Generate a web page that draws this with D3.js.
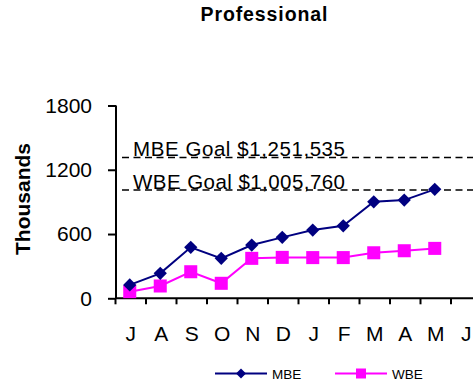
<!DOCTYPE html>
<html><head><meta charset="utf-8">
<script src="https://cdn.jsdelivr.net/npm/d3@7"></script>
<style>body{margin:0;background:#fff}svg{display:block;font-family:Arial,"Liberation Sans",sans-serif}</style>
</head><body><svg id="c" width="473" height="385"></svg>
<script>
const months = ["J","A","S","O","N","D","J","F","M","A","M","J"];
const mbe = [125, 233, 476, 373, 497, 569, 637, 677, 901, 917, 1017];
const wbe = [62, 115, 248, 140, 373, 382, 380, 380, 425, 444, 466];
const yTicks = [0, 600, 1200, 1800];
const goals = [{label:"MBE Goal $1,251,535", value:1315}, {label:"WBE Goal $1,005,760", value:1010}];
const svg = d3.select("#c");
const x = d3.scaleBand().domain(d3.range(months.length)).range([115.5, 481.5]);
const y = d3.scaleLinear().domain([0,1800]).range([298.3,105.5]);
svg.append("text").attr("x",264).attr("y",21).attr("text-anchor","middle").attr("font-weight","bold").attr("font-size",19.5).attr("textLength",127).text("Professional");
svg.append("text").attr("transform","translate(30,199) rotate(-90)").attr("text-anchor","middle").attr("font-weight","bold").attr("font-size",21).text("Thousands");
// goal lines
goals.forEach(g=>{
  svg.append("line").attr("x1",122).attr("x2",473).attr("y1",y(g.value)).attr("y2",y(g.value)).attr("stroke","#000").attr("stroke-width",1.5).attr("stroke-dasharray","7,4.5");
  svg.append("text").attr("x",133).attr("y",y(g.value)-1).attr("font-size",20.5).attr("textLength",212).text(g.label);
});
// y axis
const ya = svg.append("g").attr("transform","translate(116,0)").call(d3.axisLeft(y).tickValues(yTicks).tickSize(8).tickPadding(16).tickFormat(d3.format("d")));
ya.select(".domain").attr("stroke-width",2).attr("d","M0,"+y(1800)+"V"+y(0));
ya.selectAll(".tick line").attr("stroke-width",2);
ya.selectAll("text").attr("font-size",21).attr("font-family","Arial,'Liberation Sans',sans-serif").attr("fill","#000");
// x axis
const xa = svg.append("g").attr("transform","translate(0,"+y(0)+")");
xa.append("line").attr("x1",115).attr("x2",473).attr("stroke","#000").attr("stroke-width",2);
xa.selectAll("line.t").data(d3.range(months.length)).join("line").attr("class","t").attr("x1",d=>x(d)).attr("x2",d=>x(d)).attr("y1",0).attr("y2",6).attr("stroke","#000").attr("stroke-width",2);
xa.selectAll("text").data(months).join("text").attr("x",(d,i)=>x(i)+x.bandwidth()/2).attr("y",43).attr("text-anchor","middle").attr("font-size",21).text(d=>d);
const cx = i=>x(i)+x.bandwidth()/2 - 1;
const line = d3.line().x((d,i)=>cx(i)).y(d=>y(d));
svg.append("path").datum(wbe).attr("d",line).attr("fill","none").attr("stroke","#FF00FF").attr("stroke-width",2);
svg.append("path").datum(mbe).attr("d",line).attr("fill","none").attr("stroke","#000080").attr("stroke-width",2);
const sq = d3.symbol().type(d3.symbolSquare).size(170);
const dm = d3.symbol().type(d3.symbolSquare).size(88);
svg.selectAll("path.w").data(wbe).join("path").attr("class","w").attr("transform",(d,i)=>`translate(${cx(i)},${y(d)})`).attr("d",sq).attr("fill","#FF00FF");
svg.selectAll("path.m").data(mbe).join("path").attr("class","m").attr("transform",(d,i)=>`translate(${cx(i)},${y(d)}) rotate(45)`).attr("d",dm).attr("fill","#000080");
// legend
const leg = [{name:"MBE",color:"#000080",sym:d3.symbol().type(d3.symbolSquare).size(50),rot:45,x0:215},{name:"WBE",color:"#FF00FF",sym:d3.symbol().type(d3.symbolSquare).size(100),rot:0,x0:335}];
leg.forEach(l=>{
  svg.append("line").attr("x1",l.x0).attr("x2",l.x0+52).attr("y1",373.5).attr("y2",373.5).attr("stroke",l.color).attr("stroke-width",2);
  svg.append("path").attr("transform",`translate(${l.x0+26},373.5) rotate(${l.rot})`).attr("d",l.sym).attr("fill",l.color);
  svg.append("text").attr("x",l.x0+57).attr("y",378.5).attr("font-size",13.5).text(l.name);
});
</script></body></html>
